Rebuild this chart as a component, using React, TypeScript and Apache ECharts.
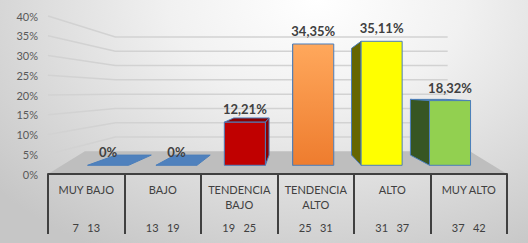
import React, { useEffect, useRef } from "react";
import * as echarts from "echarts";

const CATEGORIES = ["MUY BAJO", "BAJO", "TENDENCIA\nBAJO", "TENDENCIA\nALTO", "ALTO", "MUY ALTO"];
const RANGES = ["7   13", "13   19", "19   25", "25   31", "31   37", "37   42"];
const VALUES = [0, 0, 12.21, 34.35, 35.11, 18.32];
const Y_TICKS = [0, 5, 10, 15, 20, 25, 30, 35, 40];

const FRONT_COLORS = ["#4F81BD", "#4F81BD", "#C00000", "orange", "#FFFF00", "#92D050"];
const SIDE_COLORS = ["#4F81BD", "#4F81BD", "#8A0000", "#C55A11", "#666600", "#375623"];

// perspective settings
const VP_CAT = 2.69; // vanishing point, in category units
const VP_VAL = 20.8; // vanishing point, in value units
const S_FRONT = 0.894;
const S_BACK = 0.77;
const S_WALL = 0.724;
const BAR_HALF = 0.3;

function makeProj(api: any) {
  const p0 = api.coord([0, 0]);
  const bw = api.size([1, 0])[0];
  const vpx = p0[0] + VP_CAT * bw;
  const vpy = api.coord([0, VP_VAL])[1];
  return {
    bw,
    P: (fx: number, fy: number, s: number) => [vpx + s * (fx - vpx), vpy + s * (fy - vpy)],
  };
}

function fmt(v: number) {
  return v === 0 ? "0%" : v.toFixed(2).replace(".", ",") + "%";
}

export default function App() {
  const ref = useRef<HTMLDivElement>(null);
  useEffect(() => {
    document.body.style.margin = "0";
    const chart = echarts.init(ref.current!, undefined, { renderer: "svg" });
    const orange = new echarts.graphic.LinearGradient(0, 0, 0, 1, [
      { offset: 0, color: "#FFA85C" },
      { offset: 1, color: "#EE7C2E" },
    ]);
    const front = FRONT_COLORS.map((c) => (c === "orange" ? orange : c));
    const stroke = "#4A7EBB";
    const option: any = {
      animation: false,
      grid: { left: 48, right: 21, top: 16, bottom: 69 },
      xAxis: {
        type: "category",
        data: CATEGORIES,
        z: 10,
        axisLine: { show: true, lineStyle: { color: "#404040", width: 2 } },
        axisTick: { show: true, length: 60, interval: 0, lineStyle: { color: "#404040", width: 2 } },
        axisLabel: {
          interval: 0,
          margin: 8,
          formatter: (val: string, idx: number) => {
            const lines = val.split("\n");
            const l1 = lines[0];
            const l2 = lines[1] || " ";
            return `{a|${l1}}\n{a|${l2}}\n{b|${RANGES[idx]}}`;
          },
          rich: {
            a: { fontFamily: "Lato", fontSize: 11, lineHeight: 15, color: "#404040" },
            b: { fontFamily: "Lato", fontSize: 11, lineHeight: 31, color: "#404040" },
          },
        },
      },
      yAxis: {
        type: "value",
        min: 0,
        max: 40,
        interval: 5,
        axisLine: { show: false },
        axisTick: { show: false },
        splitLine: { show: false },
        axisLabel: {
          formatter: "{value}%",
          margin: 10,
          fontFamily: "Lato",
          fontSize: 11,
          color: "#595959",
        },
      },
      series: [
        {
          type: "custom",
          name: "walls",
          z: 1,
          silent: true,
          data: Y_TICKS.filter((t) => t > 0).map((t) => [0, t]),
          renderItem: (params: any, api: any) => {
            const { bw, P } = makeProj(api);
            const v = api.value(1);
            const a = api.coord([0, v]);
            const xl = a[0] - bw / 2;
            const xr = api.coord([CATEGORIES.length - 1, v])[0] + bw / 2;
            const pts = [[xl, a[1]], P(xl, a[1], S_WALL), P(xr, a[1], S_WALL)];
            return {
              type: "polyline",
              shape: { points: pts },
              style: { stroke: "#D2D2D2", lineWidth: 1.5, fill: null },
            };
          },
        },
        {
          type: "custom",
          name: "floor",
          z: 2,
          silent: true,
          data: [[0, 0]],
          renderItem: (params: any, api: any) => {
            const { bw, P } = makeProj(api);
            const a = api.coord([0, 0]);
            const xl = a[0] - bw / 2;
            const xr = api.coord([CATEGORIES.length - 1, 0])[0] + bw / 2;
            const pts = [
              [xl, a[1]],
              [xr, a[1]],
              P(xr + 0.4 * bw, a[1], S_WALL),
              P(xl - 0.55 * bw, a[1], S_WALL),
            ];
            return { type: "polygon", shape: { points: pts }, style: { fill: "#BEBEBE" } };
          },
        },
        {
          type: "custom",
          name: "bars",
          z: 3,
          silent: true,
          data: VALUES.map((v, i) => [i, v]),
          renderItem: (params: any, api: any) => {
            const { bw, P } = makeProj(api);
            const i = api.value(0);
            const v = api.value(1);
            const c = api.coord([i, v]);
            const b = api.coord([i, 0]);
            const xl = c[0] - BAR_HALF * bw;
            const xr = c[0] + BAR_HALF * bw;
            const FLb = P(xl, b[1], S_FRONT), FRb = P(xr, b[1], S_FRONT);
            const FLt = P(xl, c[1], S_FRONT), FRt = P(xr, c[1], S_FRONT);
            const BLb = P(xl, b[1], S_BACK), BRb = P(xr, b[1], S_BACK);
            const BLt = P(xl, c[1], S_BACK), BRt = P(xr, c[1], S_BACK);
            const side = SIDE_COLORS[i];
            const children: any[] = [];
            const poly = (pts: number[][], fill: any) => ({
              type: "polygon",
              shape: { points: pts },
              style: { fill, stroke, lineWidth: 1 },
            });
            if (v === 0) {
              children.push(poly([FLt, FRt, BRt, BLt], front[i]));
            } else {
              if (BLt[1] < FLt[1]) children.push(poly([FLt, FRt, BRt, BLt], side));
              if (BLt[0] < FLt[0]) children.push(poly([FLb, FLt, BLt, BLb], side));
              if (BRt[0] > FRt[0]) children.push(poly([FRb, FRt, BRt, BRb], side));
              children.push(poly([FLb, FRb, FRt, FLt], front[i]));
            }
            children.push({
              type: "text",
              x: (FLt[0] + FRt[0]) / 2,
              y: FLt[1] - 13,
              style: {
                text: fmt(v),
                fill: "#404040",
                font: "bold 13px Lato",
                align: "center",
                verticalAlign: "middle",
              },
            });
            return { type: "group", children };
          },
        },
      ],
    };
    chart.setOption(option);
    return () => chart.dispose();
  }, []);
  return (
    <div
      ref={ref}
      style={{
        width: 528,
        height: 243,
        background:
          "radial-gradient(ellipse 80% 120% at 60% 0%, #ffffff 0%, #f1f1f1 35%, #c6c6c6 100%)",
      }}
    />
  );
}
